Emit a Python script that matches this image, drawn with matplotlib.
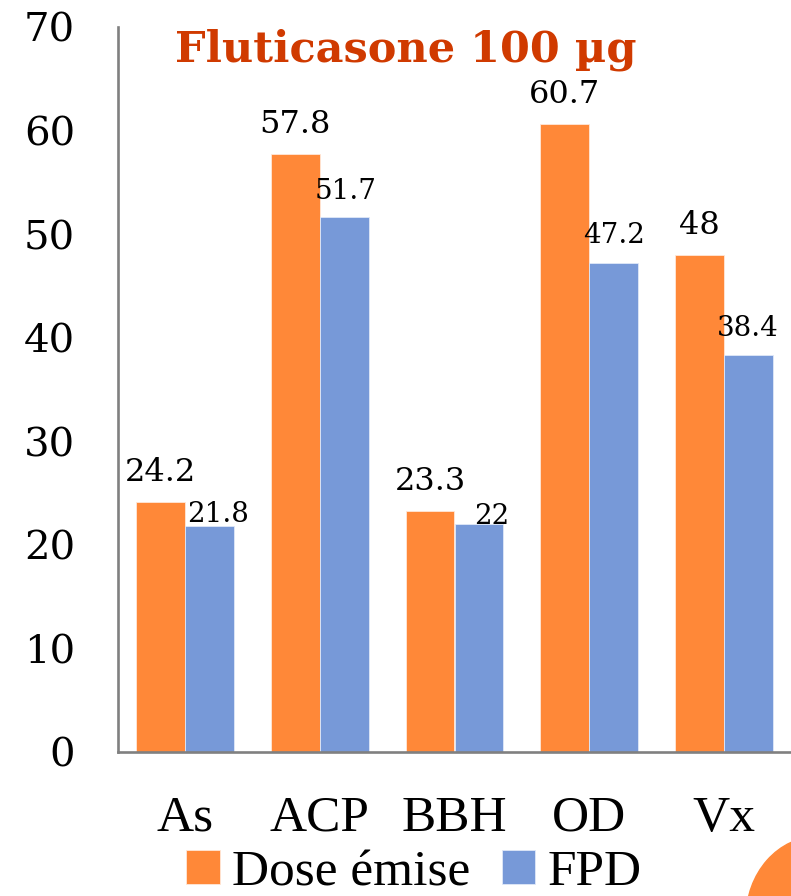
import matplotlib
matplotlib.use("Agg")
import matplotlib.pyplot as plt
import numpy as np
from matplotlib.patches import Circle

categories = ["As", "ACP", "BBH", "OD", "Vx"]
dose_emise = [24.2, 57.8, 23.3, 60.7, 48]
fpd = [21.8, 51.7, 22, 47.2, 38.4]
yticks = [0, 10, 20, 30, 40, 50, 60, 70]
series_names = ["Dose émise", "FPD"]
title = "Fluticasone 100 µg"

# label offsets (points) -- styling only
fpd_label_dx = [6, 1, 9.5, 0, 0]
fpd_label_dy = [3, 13, 0.5, 14.5, 13.7]

c_orange = "#FF8838"
c_blue = "#7799D8"
c_title = "#D03A00"

fig = plt.figure(figsize=(7.91, 8.96), dpi=100)
ax = fig.add_axes([118/791, 1-752/896, 1-118/791, (752-27.5)/896])

x = np.arange(len(categories))
w = 0.364
b1 = ax.bar(x - w/2, dose_emise, w, color=c_orange, edgecolor="#FFE8D8", linewidth=0.6, label=series_names[0])
b2 = ax.bar(x + w/2, fpd, w, color=c_blue, edgecolor="#E0E8F8", linewidth=0.6, label=series_names[1])

for rect, v in zip(b1, dose_emise):
    ax.annotate(f"{v:g}", (rect.get_x() + rect.get_width()/2, v), xytext=(0, 15),
                textcoords="offset points", ha="center", va="baseline",
                fontsize=23, family="DejaVu Serif")
for rect, v, dx, dy in zip(b2, fpd, fpd_label_dx, fpd_label_dy):
    ax.annotate(f"{v:g}", (rect.get_x() + rect.get_width()/2, v), xytext=(dx, dy),
                textcoords="offset points", ha="center", va="baseline",
                fontsize=20, family="DejaVu Serif")

ax.set_xlim(-0.5, len(categories) - 0.5)
ax.set_ylim(0, 70)
ax.set_yticks(yticks)
ax.set_yticklabels([str(t) for t in yticks], fontsize=29, family="DejaVu Serif")
ax.set_xticks(x)
ax.set_xticklabels(categories, fontsize=37, family="Liberation Serif")
ax.tick_params(axis="y", length=0, pad=31)
ax.tick_params(axis="x", length=0, pad=31)

for s in ["top", "right"]:
    ax.spines[s].set_visible(False)
for s in ["left", "bottom"]:
    ax.spines[s].set_color("#808080")
    ax.spines[s].set_linewidth(1.9)

fig.text(406/791, 1-50/896, title, ha="center", va="center", fontsize=31,
         fontweight="bold", color=c_title, family="DejaVu Serif")

fig.legend(handles=[b1, b2], labels=series_names, loc="center",
           bbox_to_anchor=(414/791, 1-873/896), ncol=2, frameon=False,
           prop={"family": "Liberation Serif", "size": 37},
           handlelength=0.65, handleheight=0.65, handletextpad=0.25,
           columnspacing=0.6, borderpad=0)

circ = Circle((818/791, 1-918/896), 72/791, transform=fig.transFigure,
              color=c_orange, clip_on=False)
fig.patches.append(circ)

fig.savefig("out.png", dpi=100)
